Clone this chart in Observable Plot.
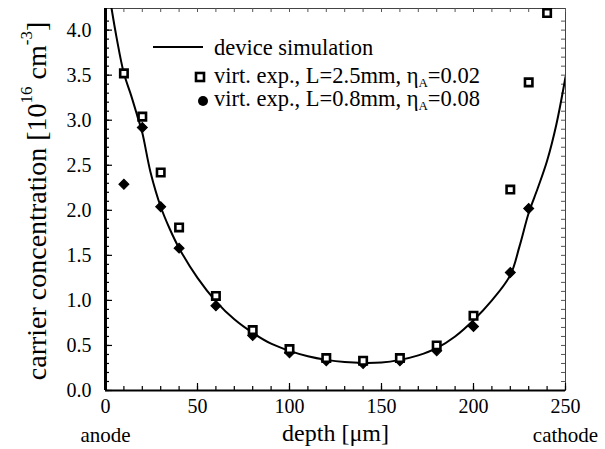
<!DOCTYPE html>
<html><head><meta charset="utf-8">
<script src="https://cdn.jsdelivr.net/npm/d3@7"></script>
<script src="https://cdn.jsdelivr.net/npm/@observablehq/plot@0.6"></script>
<style>body{margin:0;background:#fff} svg{font-family:"Liberation Serif",serif}</style>
</head><body><div id="chart"></div>
<script>
// device simulation curve
const simDepth = [3.3, 6, 10, 14, 17.4, 20, 24.5, 30, 35, 40, 50, 60, 70, 80, 90, 100, 110, 120, 130, 140, 150, 160, 170, 180, 190, 200, 210, 220, 225, 230, 235, 240, 245, 250];
const simConc  = [4.24, 3.92, 3.52, 3.27, 3.04, 2.86, 2.42, 2.04, 1.79, 1.58, 1.25, 0.99, 0.79, 0.64, 0.52, 0.44, 0.38, 0.34, 0.315, 0.305, 0.31, 0.34, 0.39, 0.47, 0.60, 0.78, 1.00, 1.28, 1.60, 1.97, 2.25, 2.55, 2.95, 3.48];
// virt. exp., L=2.5mm, eta_A=0.02 (open squares)
const sqDepth = [10, 20, 30, 40, 60, 80, 100, 120, 140, 160, 180, 200, 220, 230, 240];
const sqConc  = [3.52, 3.04, 2.42, 1.81, 1.05, 0.67, 0.46, 0.36, 0.33, 0.36, 0.50, 0.83, 2.23, 3.42, 4.19];
// virt. exp., L=0.8mm, eta_A=0.08 (filled)
const fDepth = [10, 20, 30, 40, 60, 80, 100, 120, 140, 160, 180, 200, 220, 230];
const fConc  = [2.29, 2.92, 2.04, 1.58, 0.94, 0.61, 0.42, 0.33, 0.30, 0.33, 0.44, 0.71, 1.31, 2.02];

const xTickLabels = [0, 50, 100, 150, 200, 250];
const yTickLabels = [0, 0.5, 1.0, 1.5, 2.0, 2.5, 3.0, 3.5, 4.0];
const xMinor = d3.range(0, 251, 10);
const yMinor = d3.range(0, 42).map(i => i / 10);
const endLabels = [{x: 0, t: "anode"}, {x: 250, t: "cathode"}];
const legendTexts = ["device simulation", "virt. exp., L=2.5mm, ", "virt. exp., L=0.8mm, "];
const legendEta = ["", "=0.02", "=0.08"];

const sim = simDepth.map((d, i) => ({d, c: simConc[i]}));
const sq = sqDepth.map((d, i) => ({d, c: sqConc[i]}));
const fl = fDepth.map((d, i) => ({d, c: fConc[i]}));

const FONT = '"Liberation Serif", "Times New Roman", serif';
const W = 605, H = 449, ML = 105, MR = 40, MT = 8, MB = 59;
const FW = W - ML - MR, FH = H - MT - MB;

const chart = Plot.plot({
  width: W, height: H,
  marginLeft: ML, marginRight: MR, marginTop: MT, marginBottom: MB,
  style: {fontFamily: FONT, color: "black", background: "white", overflow: "visible"},
  x: {domain: [0, 250]},
  y: {domain: [0, 4.24]},
  marks: [
    Plot.frame({stroke: "#444", strokeWidth: 1}),
    // inward ticks
    Plot.tickX(xMinor, {x: d => d, insetTop: FH - 4, strokeWidth: 1.2}),
    Plot.tickX(xTickLabels, {x: d => d, insetTop: FH - 7, strokeWidth: 1.2}),
    Plot.tickX(xMinor, {x: d => d, insetBottom: FH - 4, strokeWidth: 1, stroke: "#555"}),
    Plot.tickY(yMinor, {y: d => d, insetRight: FW - 4, strokeWidth: 1.2}),
    Plot.tickY(yTickLabels, {y: d => d, insetRight: FW - 7, strokeWidth: 1.2}),
    Plot.tickY(yMinor, {y: d => d, insetLeft: FW - 4, strokeWidth: 1, stroke: "#555"}),
    Plot.axisX(xTickLabels, {anchor: "bottom", tickSize: 0, tickPadding: 8, fontSize: 20, label: null}),
    Plot.axisY(yTickLabels, {anchor: "left", tickSize: 0, tickPadding: 14, fontSize: 20, tickFormat: d3.format(".1f"), label: null}),
    Plot.ruleX([0], {strokeWidth: 3}),
    Plot.ruleY([0], {strokeWidth: 2}),
    Plot.line(sim, {x: "d", y: "c", stroke: "black", strokeWidth: 2, curve: "catmull-rom", clip: true}),
    Plot.dot(fl, {x: "d", y: "c", symbol: "square", rotate: 45, r: 4, fill: "black", stroke: "black", strokeWidth: 1}),
    Plot.dot(sq, {x: "d", y: "c", symbol: "square", r: 4.2, fill: "white", stroke: "black", strokeWidth: 2.6}),
    Plot.text(endLabels, {x: "x", text: "t", frameAnchor: "bottom", dy: 51, fontSize: 21}),
    Plot.text(["depth [μm]"], {frameAnchor: "bottom", dy: 50, fontSize: 24})
  ]
});
document.getElementById("chart").appendChild(chart);

const svg = d3.select(chart);
// y-axis label with superscripts
const yl = svg.append("text")
  .attr("transform", "translate(36,201) rotate(-90)")
  .attr("text-anchor", "middle").attr("dominant-baseline", "central")
  .attr("font-family", FONT)
  .attr("font-size", 28).attr("fill", "black");
yl.append("tspan").text("carrier concentration [10");
yl.append("tspan").attr("dy", -10).attr("font-size", 17).text("16");
yl.append("tspan").attr("dy", 10).text(" cm");
yl.append("tspan").attr("dy", -10).attr("font-size", 17).text("-3");
yl.append("tspan").attr("dy", 10).text("]");

// legend
const lg = svg.append("g").attr("font-size", 22.5).attr("font-family", FONT).attr("fill", "black").attr("text-anchor", "start");
lg.append("line").attr("x1", 153).attr("x2", 203).attr("y1", 47).attr("y2", 47).attr("stroke", "black").attr("stroke-width", 2);
lg.append("rect").attr("x", 196).attr("y", 73).attr("width", 8).attr("height", 8).attr("fill", "white").attr("stroke", "black").attr("stroke-width", 2.6);
lg.append("circle").attr("cx", 203).attr("cy", 101).attr("r", 5).attr("fill", "black");
const baselines = [55, 83, 106];
legendTexts.forEach((t, i) => {
  const tx = lg.append("text").attr("x", 214).attr("y", baselines[i]).attr("text-anchor", "start");
  tx.append("tspan").text(t);
  if (legendEta[i]) {
    tx.append("tspan").text("η");
    tx.append("tspan").attr("dy", 4).attr("font-size", 13).text("A");
    tx.append("tspan").attr("dy", -4).text(legendEta[i]);
  }
});
</script></body></html>
